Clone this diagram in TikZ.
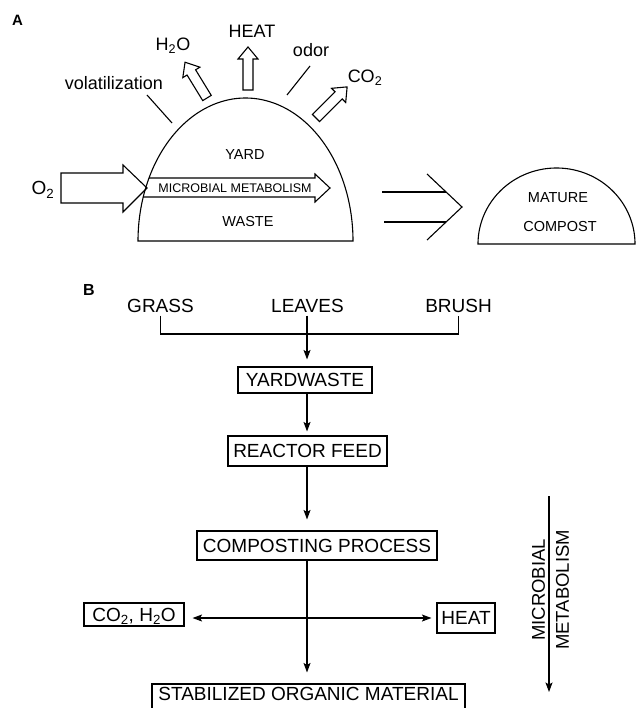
\documentclass[tikz,border=0pt]{standalone}
\usepackage{fontspec}
\setmainfont{Liberation Sans}
\usetikzlibrary{arrows.meta}
\newcommand\blockarrow[4]{%
  \draw[shift={(#1,#2)},rotate=#3,line join=miter]
    (0,-5) -- ({#4-12},-5) -- ({#4-12},-10) -- (#4,0) -- ({#4-12},10) -- ({#4-12},5) -- (0,5) -- cycle;}
\begin{document}
\begin{tikzpicture}[x=1pt,y=-1pt,line width=1.1pt,
  lbl/.style={inner sep=0pt,font=\fontsize{19}{23}\selectfont},
  albl/.style={inner sep=0pt,anchor=base,font=\fontsize{18}{22}\selectfont},
  inlbl/.style={inner sep=0pt,anchor=base,font=\fontsize{14.5}{17}\selectfont},
  tag/.style={inner sep=0pt,anchor=base,font=\fontsize{15}{18}\selectfont\bfseries},
  box/.style={draw,inner sep=0pt,text height=13.7pt,text depth=0pt,font=\fontsize{19}{23}\selectfont},
  arr/.style={-{Stealth[length=9.5pt,width=7pt,inset=2pt]}},
  dbl/.style={{Stealth[length=9.5pt,width=7pt,inset=2pt]}-{Stealth[length=9.5pt,width=7pt,inset=2pt]}}]
\useasboundingbox (0,0) rectangle (636,708);
\clip (0,0) rectangle (636,708);
% ---------------- Part A ----------------
\node[tag] (tA) at (17.5,26) {A};
% big dome
\draw plot[domain=180:0,samples=120] ({245.5+107.5*cos(\x)},{241-143*sin(\x)}) -- cycle;
\node[inlbl] (yard) at (245,160) {YARD};
\node[inlbl] (waste) at (248,227) {WASTE};
% O2 arrow
\draw[line join=miter] (61,173) -- (123,173) -- (123,165) -- (147,188) -- (123,212) -- (123,203) -- (61,203) -- cycle;
\node[albl,font=\fontsize{19}{23}\selectfont] (o2) at (43,195) {O\textsubscript{2}};
% microbial metabolism arrow inside dome
\draw[line join=miter] (149,178) -- (315,178) -- (315,174) -- (330,188) -- (315,202) -- (315,197) -- (143.2,197);
\node[inlbl,font=\fontsize{12.5}{15}\selectfont] (mmA) at (235,193) {MICROBIAL METABOLISM};
% outputs
\blockarrow{207}{98}{121.5}{42}
\blockarrow{248}{90}{90}{43}
\blockarrow{316}{118}{45}{44}
\node[albl] (h2o) at (173,51) {H\textsubscript{2}O};
\node[albl] (heatA) at (252,38) {HEAT};
\node[albl] (odor) at (311,57) {odor};
\node[albl] (co2) at (365,83) {CO\textsubscript{2}};
\node[albl] (vol) at (114,90) {volatilization};
\coordinate (v1) at (147,95);
\coordinate (v2) at (172,123);
\draw (v1) -- (v2);
\coordinate (od1) at (310,66);
\coordinate (od2) at (287,95);
\draw (od1) -- (od2);
% implies arrow
\coordinate (c1) at (427,174);
\coordinate (ctip) at (462,207);
\coordinate (c2) at (427,240);
\coordinate (l1a) at (382,192);
\coordinate (l1b) at (446,192);
\coordinate (l2a) at (384,222);
\coordinate (l2b) at (446,222);
\draw (c1) -- (ctip) -- (c2);
\draw (l1a) -- (l1b);
\draw (l2a) -- (l2b);
% small dome
\draw plot[domain=180:0,samples=120] ({556.5+78.5*cos(\x)},{244-76*sin(\x)}) -- cycle;
\node[inlbl] (mature) at (558,203) {MATURE};
\node[inlbl] (compost) at (560,232) {COMPOST};
% ---------------- Part B ----------------
\node[tag,font=\fontsize{16}{19}\selectfont\bfseries] (tB) at (89,295) {B};
\coordinate (spine) at (307,0);
\node[lbl,anchor=base] (grass) at (160.5,312) {GRASS};
\node[lbl,anchor=base] (leaves) at (307.5,312) {LEAVES};
\node[lbl,anchor=base] (brush) at (458.5,312) {BRUSH};
\coordinate (bar) at (0,334);
\draw ([yshift=-3pt]grass.south) -- (grass.south |- bar) -- (brush.south |- bar) -- ([yshift=-3pt]brush.south);
\node[box,minimum width=134pt,minimum height=26pt] (yw) at (305,380) {YARDWASTE};
\node[box,minimum width=159pt,minimum height=30pt] (rf) at (307.5,451) {REACTOR FEED};
\node[box,minimum width=240pt,minimum height=29pt] (cp) at (317,545.5) {COMPOSTING PROCESS};
\node[box,minimum width=100pt,minimum height=23pt] (cw) at (134,614.5) {CO\textsubscript{2}, H\textsubscript{2}O};
\node[box,minimum width=58pt,minimum height=30pt] (ht) at (466,618) {HEAT};
\node[box,minimum width=313pt,minimum height=30pt,text depth=10pt] (st) at (308.5,699) {STABILIZED ORGANIC MATERIAL};
\draw[arr,shorten >=7pt] ([yshift=-3pt]leaves.south -| spine) -- (yw.north -| spine);
\draw[arr,shorten >=4pt] (yw.south -| spine) -- (rf.north -| spine);
\draw[arr,shorten >=11pt] (rf.south -| spine) -- (cp.north -| spine);
\draw[arr,shorten >=11pt] (cp.south -| spine) -- (st.north -| spine);
\coordinate (hy) at (0,618);
\draw[dbl,shorten <=8pt,shorten >=5pt] (cw.east |- hy) -- (ht.west |- hy);
% side arrow
\coordinate (mtop) at (549,496);
\coordinate (mbot) at (549,692);
\draw[arr] (mtop) -- (mbot);
\node[inner sep=0pt,rotate=90,align=center,font=\fontsize{18.5}{24}\selectfont] (mmB) at (550.5,590) {MICROBIAL\\METABOLISM};
\end{tikzpicture}
\end{document}
